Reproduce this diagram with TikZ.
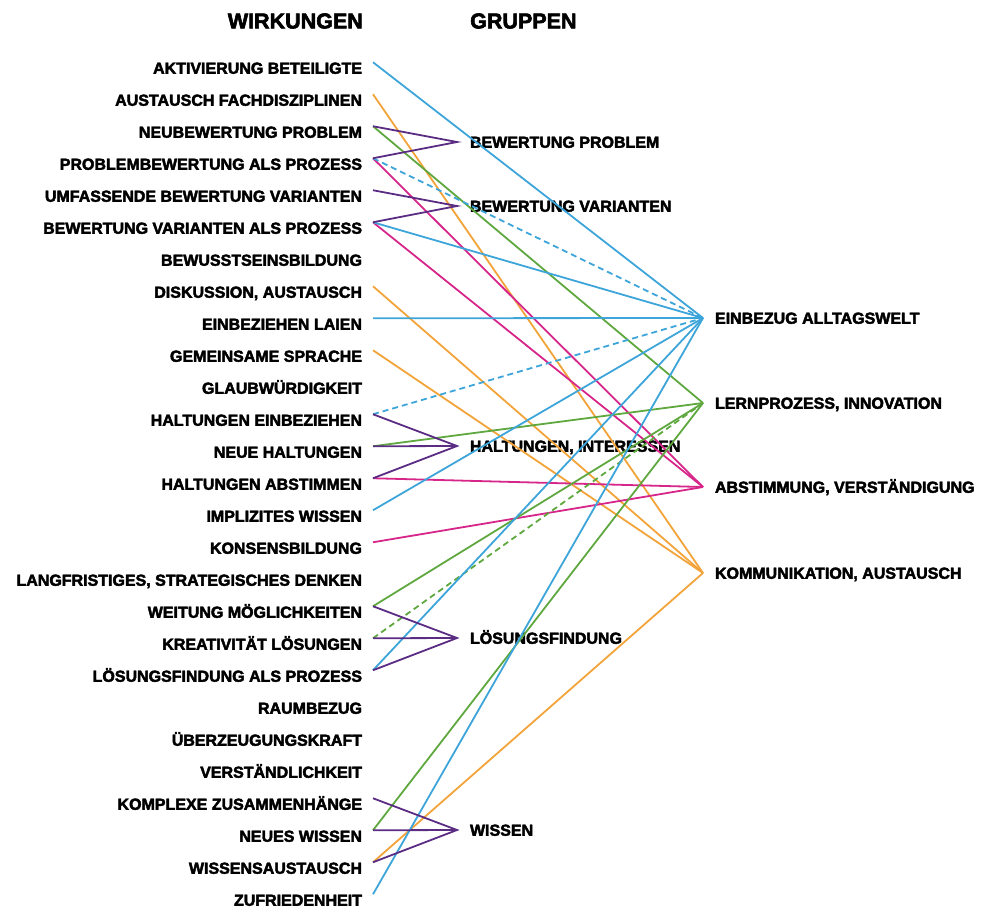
\documentclass[tikz,border=0pt]{standalone}
\usepackage{fontspec}
\setmainfont{Liberation Sans}[BoldFeatures={FakeBold=2.8}]
\usetikzlibrary{scopes}
\definecolor{blau}{HTML}{3DA5D9}
\definecolor{gruen}{HTML}{5EA83F}
\definecolor{pink}{HTML}{D6268A}
\definecolor{orange}{HTML}{F2A43A}
\definecolor{lila}{HTML}{5B2C83}
\def\lx{373}

\begin{document}
\begin{tikzpicture}[x=1pt,y=-1pt,
    wirk/.style={anchor=east,inner sep=0pt,outer xsep=11pt,outer ysep=0pt,
        text height=11.5pt,text depth=0pt,font=\bfseries\fontsize{16}{16}\selectfont},
    gruppe/.style={wirk,anchor=west,outer xsep=13pt},
    ziel/.style={wirk,anchor=west,outer xsep=12pt},
    head/.style={inner sep=0pt,font=\bfseries\fontsize{21.5}{21.5}\selectfont},
    link/.style={line width=1.8pt},
    vague/.style={link,dash pattern=on 6pt off 4pt}]
        \useasboundingbox (0,0) rectangle (982,908);
        \node[head,anchor=east] (wirkungen) at (363,21) {WIRKUNGEN};
        \node[head,anchor=west] (gruppen) at (470,21) {GRUPPEN};
        % Wirkungen
        \node[wirk] (aktiv) at (\lx,68) {AKTIVIERUNG BETEILIGTE};
        \node[wirk] (fach) at (\lx,100) {AUSTAUSCH FACHDISZIPLINEN};
        \node[wirk] (neubew) at (\lx,132) {NEUBEWERTUNG PROBLEM};
        \node[wirk] (probproz) at (\lx,164) {PROBLEMBEWERTUNG ALS PROZESS};
        \node[wirk] (umfvar) at (\lx,196) {UMFASSENDE BEWERTUNG VARIANTEN};
        \node[wirk] (varproz) at (\lx,228) {BEWERTUNG VARIANTEN ALS PROZESS};
        \node[wirk] (bewusst) at (\lx,260) {BEWUSSTSEINSBILDUNG};
        \node[wirk] (diskus) at (\lx,292) {DISKUSSION, AUSTAUSCH};
        \node[wirk] (laien) at (\lx,324) {EINBEZIEHEN LAIEN};
        \node[wirk] (sprache) at (\lx,356) {GEMEINSAME SPRACHE};
        \node[wirk] (glaub) at (\lx,388) {GLAUBWÜRDIGKEIT};
        \node[wirk] (haltein) at (\lx,420) {HALTUNGEN EINBEZIEHEN};
        \node[wirk] (haltneu) at (\lx,452) {NEUE HALTUNGEN};
        \node[wirk] (haltabst) at (\lx,484) {HALTUNGEN ABSTIMMEN};
        \node[wirk] (implizit) at (\lx,516) {IMPLIZITES WISSEN};
        \node[wirk] (konsens) at (\lx,548) {KONSENSBILDUNG};
        \node[wirk] (langfr) at (\lx,580) {LANGFRISTIGES, STRATEGISCHES DENKEN};
        \node[wirk] (weitung) at (\lx,612) {WEITUNG MÖGLICHKEITEN};
        \node[wirk] (kreativ) at (\lx,644) {KREATIVITÄT LÖSUNGEN};
        \node[wirk] (loesproz) at (\lx,676) {LÖSUNGSFINDUNG ALS PROZESS};
        \node[wirk] (raum) at (\lx,708) {RAUMBEZUG};
        \node[wirk] (ueberz) at (\lx,740) {ÜBERZEUGUNGSKRAFT};
        \node[wirk] (verst) at (\lx,772) {VERSTÄNDLICHKEIT};
        \node[wirk] (komplex) at (\lx,804) {KOMPLEXE ZUSAMMENHÄNGE};
        \node[wirk] (wissneu) at (\lx,836) {NEUES WISSEN};
        \node[wirk] (wissaus) at (\lx,868) {WISSENSAUSTAUSCH};
        \node[wirk] (zufrieden) at (\lx,900) {ZUFRIEDENHEIT};
        % Gruppen
        \node[gruppe] (bewprob) at (457,142) {BEWERTUNG PROBLEM};
        \node[gruppe] (bewvar) at (457,206) {BEWERTUNG VARIANTEN};
        \node[gruppe] (haltung) at (457,446) {HALTUNGEN, INTERESSEN};
        \node[gruppe] (loesung) at (457,638) {LÖSUNGSFINDUNG};
        \node[gruppe] (wissen) at (457,830) {WISSEN};
        % Ziele
        \node[ziel] (einbezug) at (703,318) {EINBEZUG ALLTAGSWELT};
        \node[ziel] (lern) at (703,403) {LERNPROZESS, INNOVATION};
        \node[ziel] (abst) at (703,487) {ABSTIMMUNG, VERSTÄNDIGUNG};
        \node[ziel] (komm) at (703,573) {KOMMUNIKATION, AUSTAUSCH};

        {[link,orange]
            \draw (fach.north east) -- (komm.west);
            \draw (diskus.north east) -- (komm.west);
            \draw (sprache.north east) -- (komm.west);
            \draw (wissaus.north east) -- (komm.west);
        }
        {[link,pink]
            \draw (probproz.north east) -- (abst.west);
            \draw (varproz.north east) -- (abst.west);
            \draw (haltabst.north east) -- (abst.west);
            \draw (konsens.north east) -- (abst.west);
        }
        {[link,gruen]
            \draw (neubew.north east) -- (lern.west);
            \draw (haltneu.north east) -- (lern.west);
            \draw (weitung.north east) -- (lern.west);
            \draw[vague] (kreativ.north east) -- (lern.west);
            \draw (wissneu.north east) -- (lern.west);
        }
        {[link,blau]
            \draw (aktiv.north east) -- (einbezug.west);
            \draw[vague] (probproz.north east) -- (einbezug.west);
            \draw (varproz.north east) -- (einbezug.west);
            \draw (laien.north east) -- (einbezug.west);
            \draw[vague] (haltein.north east) -- (einbezug.west);
            \draw (implizit.north east) -- (einbezug.west);
            \draw (loesproz.north east) -- (einbezug.west);
            \draw (zufrieden.north east) -- (einbezug.west);
        }
        {[link,lila]
            \draw (neubew.north east) -- (bewprob.west) -- (probproz.north east);
            \draw (umfvar.north east) -- (bewvar.west) -- (varproz.north east);
            \draw (haltein.north east) -- (haltung.west) -- (haltabst.north east);
            \draw (haltneu.north east) -- (haltung.west);
            \draw (weitung.north east) -- (loesung.west) -- (loesproz.north east);
            \draw (kreativ.north east) -- (loesung.west);
            \draw (komplex.north east) -- (wissen.west) -- (wissaus.north east);
            \draw (wissneu.north east) -- (wissen.west);
        }
    \end{tikzpicture}
\end{document}
